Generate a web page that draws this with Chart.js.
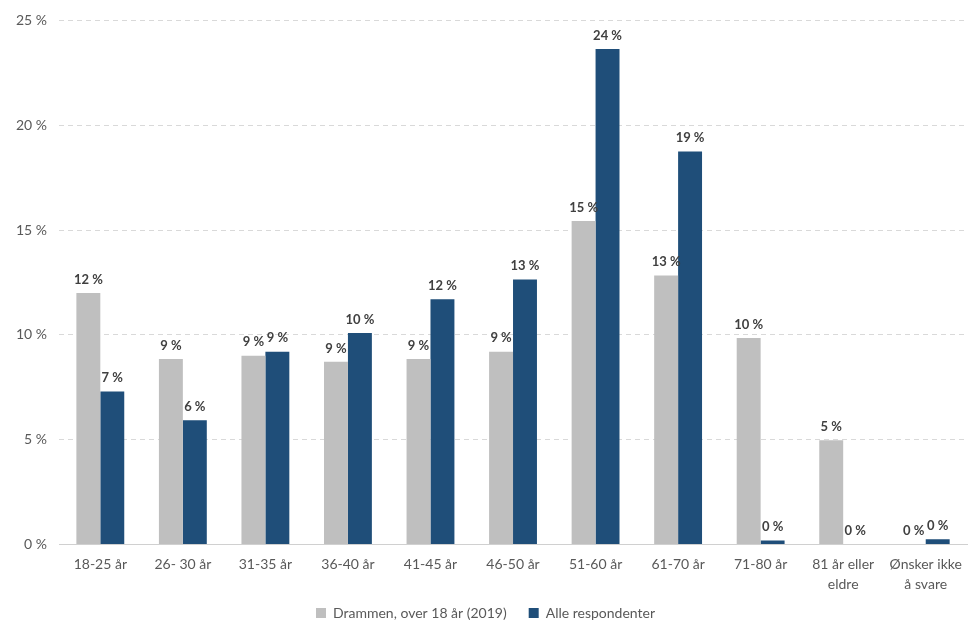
<!DOCTYPE html>
<html lang="no">
<head>
  <meta charset="UTF-8">
  <title>Alder</title>
  <script src="https://cdn.jsdelivr.net/npm/chart.js"></script>
  <style>
    body { margin: 0; background: #fff; }
    #wrap { width: 977px; height: 638px; }
  </style>
</head>
<body>
<div id="wrap"><canvas id="ageChart" width="977" height="638"></canvas></div>
<script>
  // categories
  const categories = ['18-25 år', '26- 30 år', '31-35 år', '36-40 år', '41-45 år', '46-50 år',
    '51-60 år', '61-70 år', '71-80 år', ['81 år eller', 'eldre'], ['Ønsker ikke', 'å svare']];

  // percentages
  const drammen = [12.0, 8.85, 9.0, 8.71, 8.85, 9.19, 15.43, 12.83, 9.85, 4.97, 0];
  const alle = [7.29, 5.92, 9.19, 10.09, 11.7, 12.64, 23.63, 18.75, 0.19, 0, 0.24];

  const yTicks = [0, 5, 10, 15, 20, 25];

  // draw "12 %" style labels above bars
  const valueLabels = {
    id: 'valueLabels',
    afterDatasetsDraw(chart) {
      const ctx = chart.ctx;
      ctx.save();
      ctx.font = 'bold 13px Lato, "Open Sans", sans-serif';
      ctx.fillStyle = '#404040';
      ctx.textAlign = 'center';
      ctx.textBaseline = 'bottom';
      chart.data.datasets.forEach((ds, i) => {
        chart.getDatasetMeta(i).data.forEach((bar, j) => {
          ctx.fillText(Math.round(ds.data[j]) + ' %', bar.x, bar.y - 7);
        });
      });
      ctx.restore();
    }
  };

  // keep the legend short even with wide gaps between its items
  const legendHeight = {
    id: 'legendHeight',
    afterInit(chart) {
      const lg = chart.legend;
      const fit = lg.fit.bind(lg);
      lg.fit = function () { fit(); this.height = 46; };
    },
    afterLayout(chart) {
      chart.legend.top -= 8;
    }
  };

  const font = { family: 'Lato, "Open Sans", sans-serif', size: 14 };

  const ctx = document.getElementById('ageChart').getContext('2d');
  new Chart(ctx, {
    type: 'bar',
    data: {
      labels: categories,
      datasets: [{
        label: 'Drammen, over 18 år (2019)',
        data: drammen,
        backgroundColor: '#bfbfbf'
      }, {
        label: 'Alle respondenter',
        data: alle,
        backgroundColor: '#1f4e79'
      }]
    },
    options: {
      responsive: false,
      animation: false,
      layout: { padding: { left: 4, right: 10, top: -3, bottom: 0 } },
      datasets: { bar: { categoryPercentage: 0.58, barPercentage: 1 } },
      plugins: {
        tooltip: { enabled: false },
        legend: {
          position: 'bottom',
          labels: {
            boxWidth: 10,
            boxHeight: 10,
            padding: 22,
            color: '#595959',
            font: font
          }
        }
      },
      scales: {
        y: {
          min: 0,
          max: 25,
          afterBuildTicks: axis => { axis.ticks = yTicks.map(v => ({ value: v })); },
          ticks: {
            color: '#595959',
            padding: 12,
            font: font,
            callback: v => v + ' %'
          },
          grid: { color: '#d9d9d9', drawTicks: false },
          border: { display: false, dash: [5, 4] }
        },
        x: {
          afterFit: s => { s.height -= 5; },
          ticks: {
            color: '#595959',
            padding: 2,
            maxRotation: 0,
            autoSkip: false,
            font: { family: font.family, size: 14, lineHeight: 1.45 }
          },
          grid: { display: false },
          border: { color: '#d0d0d0' }
        }
      }
    },
    plugins: [valueLabels, legendHeight]
  });
</script>
</body>
</html>
